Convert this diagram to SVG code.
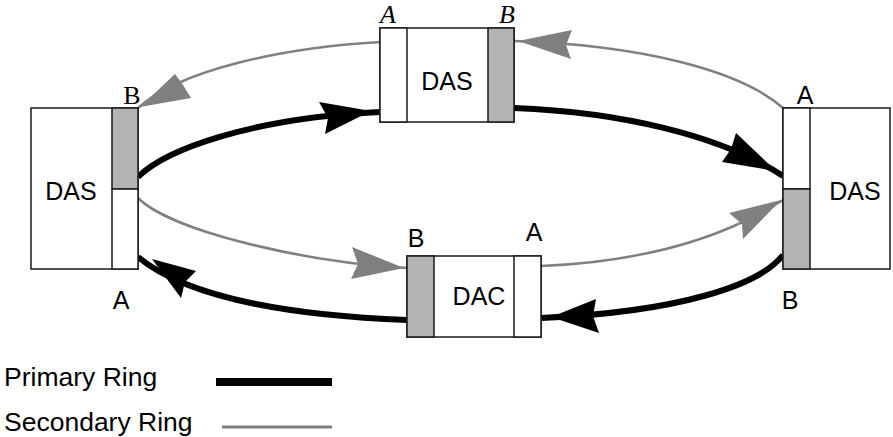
<svg xmlns="http://www.w3.org/2000/svg" width="893" height="437" viewBox="0 0 893 437">
<style>
.box{fill:#fff;stroke:#1a1a1a;stroke-width:1.5}
.port{fill:#fff;stroke:#1a1a1a;stroke-width:1.5}
.gport{fill:#b3b3b3;stroke:#1a1a1a;stroke-width:1.5}
.lbl{font-family:"Liberation Sans",Arial,sans-serif;font-size:25px;fill:#000;text-anchor:middle}
.ser{font-family:"Liberation Serif","Times New Roman",serif;font-size:26px;fill:#000;text-anchor:middle}
.it{font-style:italic}
.pri{fill:none;stroke:#000;stroke-width:6}
.sec{fill:none;stroke:#808080;stroke-width:2.5}
.pa{fill:#000}
.sa{fill:#808080}
.leg{font-family:"Liberation Sans",Arial,sans-serif;font-size:26.5px;fill:#000}
</style>
<rect width="893" height="437" fill="#fff"/>
<g id="connectors">
<path class="pri" d="M138,177 C165,150 250,118 380,112"/>
<polygon class="pa" points="319,102 371,111 325,134 328,118"/>
<path class="pri" d="M514,108 C620,112 720,135 783,176"/>
<polygon class="pa" points="736,133 776,171 722,162 731,149"/>
<path class="pri" d="M783,255 C760,285 680,312 541,318"/>
<polygon class="pa" points="596,299 551,317 599,333 593,316"/>
<path class="pri" d="M407,320 C300,316 190,300 138,257"/>
<polygon class="pa" points="196,271 152,259 181,298 185,282"/>
<path class="sec" d="M783,108 C740,70 640,45 514,41"/>
<polygon class="sa" points="572,30 518,41 571,59 566,45"/>
<path class="sec" d="M380,42 C280,48 180,70 138,108"/>
<polygon class="sa" points="175,74 140,107 191,98 183,85"/>
<path class="sec" d="M138,198 C170,230 300,262 407,268"/>
<polygon class="sa" points="352,247 404,268 351,279 358,264"/>
<path class="sec" d="M541,266 C640,262 720,240 783,200"/>
<polygon class="sa" points="729,213 781,200 743,239 742,224"/>
</g>
<g id="das-left">
<rect class="box" x="31" y="108" width="107" height="161"/>
<rect class="gport" x="112" y="108" width="26" height="81"/>
<rect class="port" x="112" y="189" width="26" height="80"/>
<text class="lbl" x="71" y="200">DAS</text>
<text class="ser" x="132" y="104">B</text>
<text class="lbl" x="121" y="309">A</text>
</g>
<g id="das-top">
<rect class="box" x="380" y="28" width="134" height="94"/>
<rect class="port" x="380" y="28" width="27" height="94"/>
<rect class="gport" x="488" y="28" width="26" height="94"/>
<text class="lbl" x="447" y="90">DAS</text>
<text class="ser it" x="388" y="23">A</text>
<text class="ser it" x="507" y="23">B</text>
</g>
<g id="das-right">
<rect class="box" x="783" y="108" width="107" height="161"/>
<rect class="port" x="783" y="108" width="27" height="81"/>
<rect class="gport" x="783" y="189" width="27" height="80"/>
<text class="lbl" x="855" y="200">DAS</text>
<text class="lbl" x="805" y="104">A</text>
<text class="lbl" x="790" y="309">B</text>
</g>
<g id="dac">
<rect class="box" x="407" y="256" width="134" height="81"/>
<rect class="gport" x="407" y="256" width="27" height="81"/>
<rect class="port" x="514" y="256" width="27" height="81"/>
<text class="lbl" x="479" y="305">DAC</text>
<text class="lbl" x="416" y="247">B</text>
<text class="lbl" x="534" y="241">A</text>
</g>
<g id="legend">
<text class="leg" x="4" y="386">Primary Ring</text>
<line x1="216" y1="382" x2="332" y2="382" stroke="#000" stroke-width="8"/>
<text class="leg" x="4" y="431">Secondary Ring</text>
<line x1="222" y1="427" x2="332" y2="427" stroke="#808080" stroke-width="3"/>
</g>
</svg>
